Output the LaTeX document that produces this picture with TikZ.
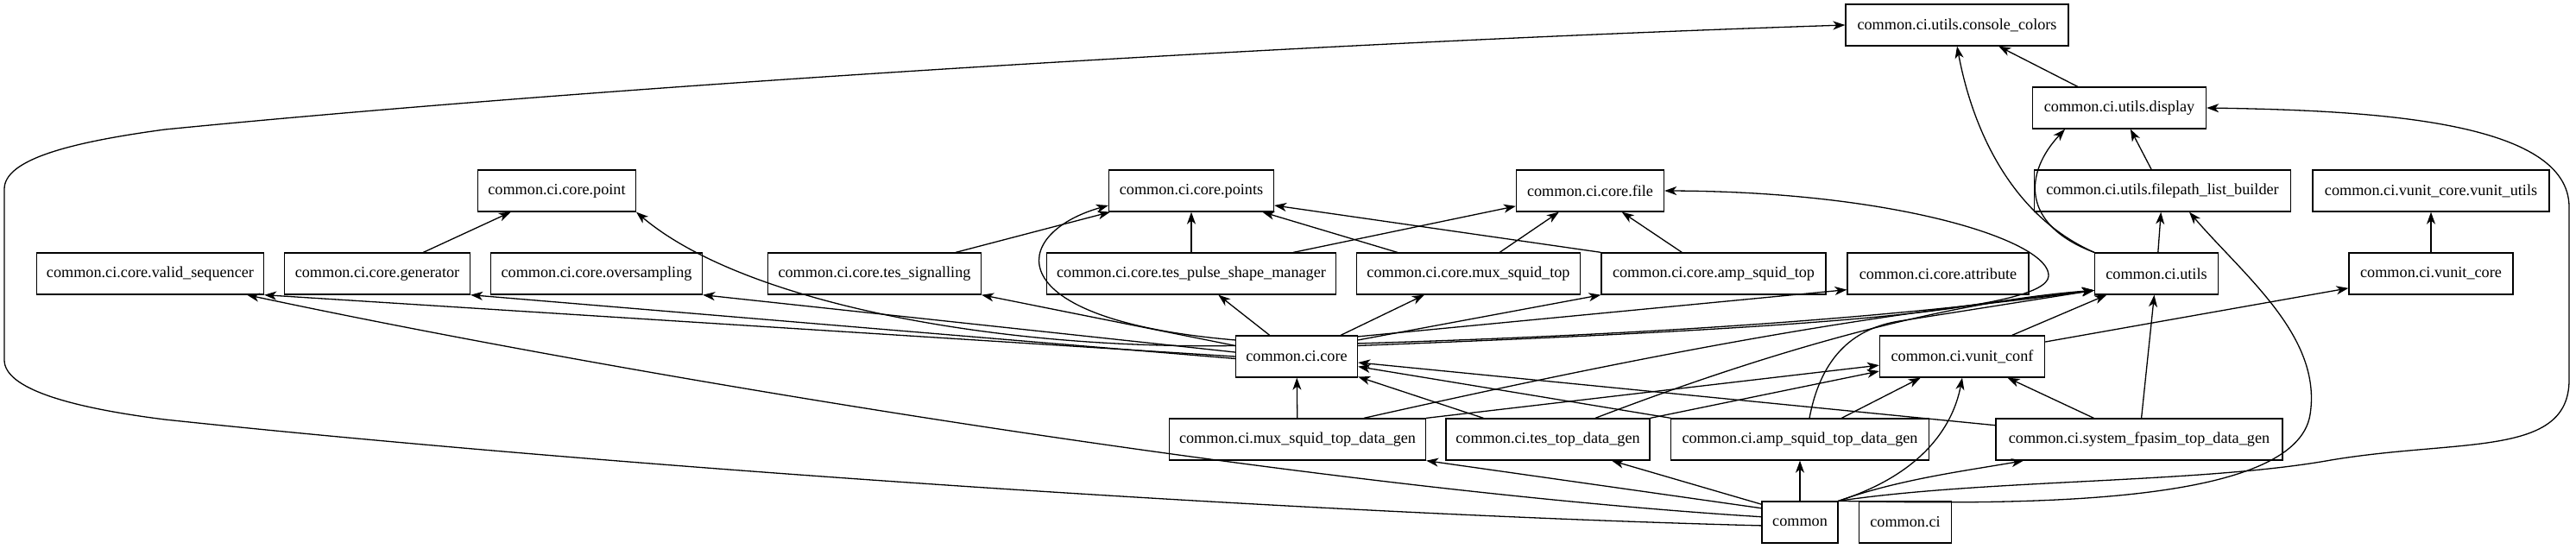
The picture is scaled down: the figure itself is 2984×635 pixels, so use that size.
\documentclass[tikz,border=0pt]{standalone}
\usepackage{fontspec}
\setmainfont{Liberation Serif}
\usetikzlibrary{arrows.meta}
\begin{document}
\begin{tikzpicture}[x=1pt,y=-1pt,
  mod/.style={draw, line width=1.3pt, rectangle, minimum height=48pt, inner xsep=3pt, inner ysep=0pt, font=\fontsize{18.2}{22}\selectfont},
  dep/.style={line width=1.3pt, -{Stealth[length=14pt,width=10pt,inset=4pt]}}]
\useasboundingbox (0,0) rectangle (2984,635);

\node[mod, minimum width=258pt] (cc) at (2267,29) {common.ci.utils.console\_colors};
\node[mod, minimum width=201pt] (disp) at (2455,125) {common.ci.utils.display};
\node[mod, minimum width=183pt] (point) at (645,221) {common.ci.core.point};
\node[mod, minimum width=191pt] (points) at (1380,221) {common.ci.core.points};
\node[mod, minimum width=171pt] (file) at (1842,221) {common.ci.core.file};
\node[mod, minimum width=297pt] (flb) at (2505,221) {common.ci.utils.filepath\_list\_builder};
\node[mod, minimum width=274pt] (vutils) at (2816,221) {common.ci.vunit\_core.vunit\_utils};
\node[mod, minimum width=263pt] (valid) at (174,317) {common.ci.core.valid\_sequencer};
\node[mod, minimum width=215pt] (gen) at (437,317) {common.ci.core.generator};
\node[mod, minimum width=245pt] (overs) at (691,317) {common.ci.core.oversampling};
\node[mod, minimum width=247pt] (tessig) at (1013,317) {common.ci.core.tes\_signalling};
\node[mod, minimum width=335pt] (tpsm) at (1380,317) {common.ci.core.tes\_pulse\_shape\_manager};
\node[mod, minimum width=259pt] (muxtop) at (1701,317) {common.ci.core.mux\_squid\_top};
\node[mod, minimum width=260pt] (amptop) at (1985,317) {common.ci.core.amp\_squid\_top};
\node[mod, minimum width=210pt] (attr) at (2245,317) {common.ci.core.attribute};
\node[mod, minimum width=143pt] (utils) at (2498,317) {common.ci.utils};
\node[mod, minimum width=190pt] (vcore) at (2816,317) {common.ci.vunit\_core};
\node[mod, minimum width=141pt] (core) at (1502,413) {common.ci.core};
\node[mod, minimum width=191pt] (vconf) at (2273,413) {common.ci.vunit\_conf};
\node[mod, minimum width=297pt] (muxdg) at (1503,509) {common.ci.mux\_squid\_top\_data\_gen};
\node[mod, minimum width=236pt] (tesdg) at (1793,509) {common.ci.tes\_top\_data\_gen};
\node[mod, minimum width=299pt] (ampdg) at (2085,509) {common.ci.amp\_squid\_top\_data\_gen};
\node[mod, minimum width=332pt] (sysdg) at (2478,509) {common.ci.system\_fpasim\_top\_data\_gen};
\node[mod, minimum width=88pt] (common) at (2085,605) {common};
\node[mod, minimum width=107pt] (ci) at (2207,605) {common.ci};

% core package
\draw[dep] (gen) -- (point);
\draw[dep] (core.170) .. controls (1150,405) and (860,350) .. (point.-15);
\draw[dep] (core.180) -- (valid.south east);
\draw[dep] (core.182) -- (gen.south east);
\draw[dep] (core.176) -- (overs.south east);
\draw[dep] (core.170) -- (tessig.south east);
\draw[dep] (core) -- (tpsm);
\draw[dep] (core) -- (muxtop);
\draw[dep] (core.15) -- (amptop.south west);
\draw[dep] (core.18) -- (attr.-170);
\draw[dep] (core.165) .. controls (1150,370) and (1170,270) .. (points.190);
\draw[dep] (tessig) -- (points);
\draw[dep] (tpsm) -- (points);
\draw[dep] (muxtop) -- (points);
\draw[dep] (amptop.north west) -- (points.-10);
\draw[dep] (tpsm) -- (file);
\draw[dep] (muxtop) -- (file);
\draw[dep] (amptop) -- (file);
\draw[dep] (core.10) .. controls (2100,380) and (2370,360) .. (2373,320) .. controls (2376,280) and (2200,222) .. (file.east);
\draw[dep] (core.12) .. controls (2000,385) and (2250,360) .. (utils.-165);

% utils
\draw[dep] (utils.north west) .. controls (2330,250) and (2285,150) .. (cc.south);
\draw[dep] (disp) -- (cc);
\draw[dep] (utils.north west) .. controls (2340,260) and (2345,200) .. ([xshift=-63pt]disp.south);
\draw[dep] (flb) -- (disp);
\draw[dep] (utils) -- (flb);

% common
\draw[dep] (common.north east) .. controls (2350,585) and (2660,585) .. (2676,480) .. controls (2690,390) and (2600,320) .. ([xshift=31pt]flb.south);
\draw[dep] (common.north east) .. controls (2300,555) and (2550,560) .. (2700,533) .. controls (2850,508) and (2976,530) .. (2976,440) -- (2976,240) .. controls (2976,140) and (2750,128) .. (disp.east);
\draw[dep] (common.185) .. controls (1500,595) and (700,540) .. (191,486) .. controls (80,472) and (5,450) .. (5,417) -- (5,219) .. controls (5,185) and (80,165) .. (191,150) .. controls (700,100) and (1500,50) .. (cc.west);
\draw[dep] (common.172) .. controls (1500,565) and (700,430) .. ([xshift=-20pt]valid.south east);
\draw[dep] (common.north east) .. controls (2240,545) and (2265,480) .. (vconf.south);
\draw[dep] (common) -- (ampdg);
\draw[dep] (common.north east) .. controls (2200,555) and (2280,545) .. ([xshift=-134pt]sysdg.south);
\draw[dep] (common.160) -- (muxdg.south east);
\draw[dep] (common.155) -- ([xshift=74pt]tesdg.south);

% vunit
\draw[dep] (vcore) -- (vutils);
\draw[dep] (vconf) -- (vcore);
\draw[dep] (vconf) -- (utils);

% data generators
\draw[dep] (sysdg) -- (utils);
\draw[dep] (sysdg) -- (vconf);
\draw[dep] (sysdg) -- (core);
\draw[dep] (ampdg) -- (vconf);
\draw[dep] ([xshift=11pt]ampdg.north) .. controls (2110,410) and (2150,380) .. (2200,372) -- (utils.-165);
\draw[dep] (ampdg) -- (core);
\draw[dep] (muxdg) -- (core);
\draw[dep] (tesdg) -- (core);
\draw[dep] ([xshift=77pt]muxdg.north) .. controls (2000,390) and (2200,362) .. (utils.-165);
\draw[dep] ([xshift=55pt]tesdg.north) .. controls (2050,407) and (2250,350) .. (utils.-165);
\draw[dep] (muxdg.north east) -- (vconf.-174);
\draw[dep] (tesdg.north east) -- (vconf.-170);
\end{tikzpicture}
\end{document}
